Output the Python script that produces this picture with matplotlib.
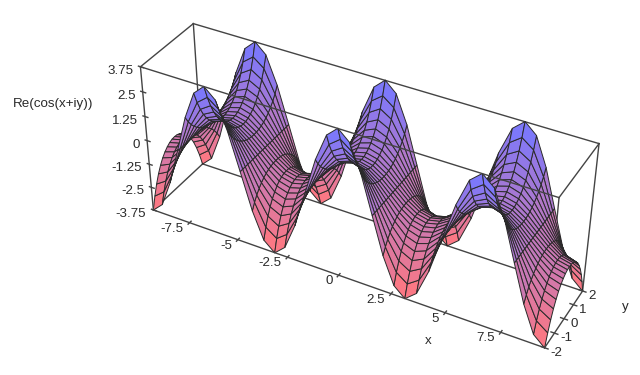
import numpy as np
import matplotlib
matplotlib.use("Agg")
import matplotlib.pyplot as plt
from matplotlib.colors import LinearSegmentedColormap, Normalize
from mpl_toolkits.mplot3d import proj3d

plt.rcParams['font.family'] = ['Liberation Sans', 'DejaVu Sans']

x_grid = [-9.42,-8.90,-8.38,-7.85,-7.33,-6.81,-6.28,-5.76,-5.24,-4.71,-4.19,-3.67,-3.14,-2.62,-2.09,-1.57,-1.05,-0.52,0,
          0.52,1.05,1.57,2.09,2.62,3.14,3.67,4.19,4.71,5.24,5.76,6.28,6.81,7.33,7.85,8.38,8.90,9.42]
y_grid = [-2,-1.8,-1.6,-1.4,-1.2,-1,-0.8,-0.6,-0.4,-0.2,0,0.2,0.4,0.6,0.8,1,1.2,1.4,1.6,1.8,2]
z_grid = [
[-3.76,-3.11,-2.58,-2.15,-1.81,-1.54,-1.34,-1.19,-1.08,-1.02,-1,-1.02,-1.08,-1.19,-1.34,-1.54,-1.81,-2.15,-2.58,-3.11,-3.76],
[-3.26,-2.69,-2.23,-1.86,-1.57,-1.34,-1.16,-1.03,-.94,-.88,-.87,-.88,-.94,-1.03,-1.16,-1.34,-1.57,-1.86,-2.23,-2.69,-3.26],
[-1.88,-1.55,-1.29,-1.08,-.91,-.77,-.67,-.59,-.54,-.51,-.5,-.51,-.54,-.59,-.67,-.77,-.91,-1.08,-1.29,-1.55,-1.88],
[0,0,0,0,0,0,0,0,0,0,0,0,0,0,0,0,0,0,0,0,0],
[1.88,1.55,1.29,1.08,.91,.77,.67,.59,.54,.51,.5,.51,.54,.59,.67,.77,.91,1.08,1.29,1.55,1.88],
[3.26,2.69,2.23,1.86,1.57,1.34,1.16,1.03,.94,.88,.87,.88,.94,1.03,1.16,1.34,1.57,1.86,2.23,2.69,3.26],
[3.76,3.11,2.58,2.15,1.81,1.54,1.34,1.19,1.08,1.02,1,1.02,1.08,1.19,1.34,1.54,1.81,2.15,2.58,3.11,3.76],
[3.26,2.69,2.23,1.86,1.57,1.34,1.16,1.03,.94,.88,.87,.88,.94,1.03,1.16,1.34,1.57,1.86,2.23,2.69,3.26],
[1.88,1.55,1.29,1.08,.91,.77,.67,.59,.54,.51,.5,.51,.54,.59,.67,.77,.91,1.08,1.29,1.55,1.88],
[0,0,0,0,0,0,0,0,0,0,0,0,0,0,0,0,0,0,0,0,0],
[-1.88,-1.55,-1.29,-1.08,-.91,-.77,-.67,-.59,-.54,-.51,-.5,-.51,-.54,-.59,-.67,-.77,-.91,-1.08,-1.29,-1.55,-1.88],
[-3.26,-2.69,-2.23,-1.86,-1.57,-1.34,-1.16,-1.03,-.94,-.88,-.87,-.88,-.94,-1.03,-1.16,-1.34,-1.57,-1.86,-2.23,-2.69,-3.26],
[-3.76,-3.11,-2.58,-2.15,-1.81,-1.54,-1.34,-1.19,-1.08,-1.02,-1,-1.02,-1.08,-1.19,-1.34,-1.54,-1.81,-2.15,-2.58,-3.11,-3.76],
[-3.26,-2.69,-2.23,-1.86,-1.57,-1.34,-1.16,-1.03,-.94,-.88,-.87,-.88,-.94,-1.03,-1.16,-1.34,-1.57,-1.86,-2.23,-2.69,-3.26],
[-1.88,-1.55,-1.29,-1.08,-.91,-.77,-.67,-.59,-.54,-.51,-.5,-.51,-.54,-.59,-.67,-.77,-.91,-1.08,-1.29,-1.55,-1.88],
[0,0,0,0,0,0,0,0,0,0,0,0,0,0,0,0,0,0,0,0,0],
[1.88,1.55,1.29,1.08,.91,.77,.67,.59,.54,.51,.5,.51,.54,.59,.67,.77,.91,1.08,1.29,1.55,1.88],
[3.26,2.69,2.23,1.86,1.57,1.34,1.16,1.03,.94,.88,.87,.88,.94,1.03,1.16,1.34,1.57,1.86,2.23,2.69,3.26],
[3.76,3.11,2.58,2.15,1.81,1.54,1.34,1.19,1.08,1.02,1,1.02,1.08,1.19,1.34,1.54,1.81,2.15,2.58,3.11,3.76],
[3.26,2.69,2.23,1.86,1.57,1.34,1.16,1.03,.94,.88,.87,.88,.94,1.03,1.16,1.34,1.57,1.86,2.23,2.69,3.26],
[1.88,1.55,1.29,1.08,.91,.77,.67,.59,.54,.51,.5,.51,.54,.59,.67,.77,.91,1.08,1.29,1.55,1.88],
[0,0,0,0,0,0,0,0,0,0,0,0,0,0,0,0,0,0,0,0,0],
[-1.88,-1.55,-1.29,-1.08,-.91,-.77,-.67,-.59,-.54,-.51,-.5,-.51,-.54,-.59,-.67,-.77,-.91,-1.08,-1.29,-1.55,-1.88],
[-3.26,-2.69,-2.23,-1.86,-1.57,-1.34,-1.16,-1.03,-.94,-.88,-.87,-.88,-.94,-1.03,-1.16,-1.34,-1.57,-1.86,-2.23,-2.69,-3.26],
[-3.76,-3.11,-2.58,-2.15,-1.81,-1.54,-1.34,-1.19,-1.08,-1.02,-1,-1.02,-1.08,-1.19,-1.34,-1.54,-1.81,-2.15,-2.58,-3.11,-3.76],
[-3.26,-2.69,-2.23,-1.86,-1.57,-1.34,-1.16,-1.03,-.94,-.88,-.87,-.88,-.94,-1.03,-1.16,-1.34,-1.57,-1.86,-2.23,-2.69,-3.26],
[-1.88,-1.55,-1.29,-1.08,-.91,-.77,-.67,-.59,-.54,-.51,-.5,-.51,-.54,-.59,-.67,-.77,-.91,-1.08,-1.29,-1.55,-1.88],
[0,0,0,0,0,0,0,0,0,0,0,0,0,0,0,0,0,0,0,0,0],
[1.88,1.55,1.29,1.08,.91,.77,.67,.59,.54,.51,.5,.51,.54,.59,.67,.77,.91,1.08,1.29,1.55,1.88],
[3.26,2.69,2.23,1.86,1.57,1.34,1.16,1.03,.94,.88,.87,.88,.94,1.03,1.16,1.34,1.57,1.86,2.23,2.69,3.26],
[3.76,3.11,2.58,2.15,1.81,1.54,1.34,1.19,1.08,1.02,1,1.02,1.08,1.19,1.34,1.54,1.81,2.15,2.58,3.11,3.76],
[3.26,2.69,2.23,1.86,1.57,1.34,1.16,1.03,.94,.88,.87,.88,.94,1.03,1.16,1.34,1.57,1.86,2.23,2.69,3.26],
[1.88,1.55,1.29,1.08,.91,.77,.67,.59,.54,.51,.5,.51,.54,.59,.67,.77,.91,1.08,1.29,1.55,1.88],
[0,0,0,0,0,0,0,0,0,0,0,0,0,0,0,0,0,0,0,0,0],
[-1.88,-1.55,-1.29,-1.08,-.91,-.77,-.67,-.59,-.54,-.51,-.5,-.51,-.54,-.59,-.67,-.77,-.91,-1.08,-1.29,-1.55,-1.88],
[-3.26,-2.69,-2.23,-1.86,-1.57,-1.34,-1.16,-1.03,-.94,-.88,-.87,-.88,-.94,-1.03,-1.16,-1.34,-1.57,-1.86,-2.23,-2.69,-3.26],
[-3.76,-3.11,-2.58,-2.15,-1.81,-1.54,-1.34,-1.19,-1.08,-1.02,-1,-1.02,-1.08,-1.19,-1.34,-1.54,-1.81,-2.15,-2.58,-3.11,-3.76],
]
x_ticks = [-7.5, -5, -2.5, 0, 2.5, 5, 7.5]
y_ticks = [-2, -1, 0, 1, 2]
z_ticks = [-3.75, -2.5, -1.25, 0, 1.25, 2.5, 3.75]
x_tick_labels = ['-7.5', '-5', '-2.5', '0', '2.5', '5', '7.5']
y_tick_labels = ['-2', '-1', '0', '1', '2']
z_tick_labels = ['-3.75', '-2.5', '-1.25', '0', '1.25', '2.5', '3.75']

x0, x1 = x_grid[0], x_grid[-1]
y0, y1 = y_grid[0], y_grid[-1]
z0, z1 = z_ticks[0], z_ticks[-1]

W, H = 640, 375
fig = plt.figure(figsize=(W/100, H/100), dpi=100, facecolor='white')
# left 208.5 px, bottom edge 332.06 px from the top, side 298.2 px
ax = fig.add_axes([208.5/W, (H-332.06)/H, 298.2/W, 298.2/H], projection='3d')
ax.computed_zorder = False
ax.set_xlim(x0, x1); ax.set_ylim(y0, y1); ax.set_zlim(z0, z1)
ax.set_box_aspect((x1-x0, y1-y0, z1-z0))
ax.view_init(elev=36.22, azim=-61.71, roll=-0.32)
ax.set_proj_type('persp')
ax._dist = 6.196
ax.set_axis_off()

cm = LinearSegmentedColormap.from_list('rb', ['#ff7880', '#7878ff'])
X, Y = np.meshgrid(x_grid, y_grid, indexing='ij')
surf = ax.plot_surface(X, Y, np.array(z_grid), rstride=1, cstride=1, cmap=cm,
                       norm=Normalize(-3.5, 3.5), edgecolor='#2a2a2a', linewidth=0.7,
                       antialiased=True, zorder=2)
surf.set_clip_on(False)

LINE = dict(color='#444444', lw=1.0, clip_on=False)
def seg(a, b, z):
    ax.plot([a[0], b[0]], [a[1], b[1]], [a[2], b[2]], zorder=z, **LINE)

for a, b in [((x0,y1,z0),(x1,y1,z0)), ((x0,y1,z1),(x1,y1,z1)), ((x0,y1,z0),(x0,y1,z1)),
             ((x1,y1,z0),(x1,y1,z1)), ((x0,y0,z0),(x0,y1,z0)), ((x1,y0,z0),(x1,y0,z1))]:
    seg(a, b, 1)
for a, b in [((x0,y0,z0),(x1,y0,z0)), ((x0,y0,z1),(x1,y0,z1)), ((x0,y0,z0),(x0,y0,z1)),
             ((x0,y0,z1),(x0,y1,z1)), ((x1,y0,z1),(x1,y1,z1)), ((x1,y0,z0),(x1,y1,z0))]:
    seg(a, b, 3)

for v in x_ticks:
    seg((v, y0-0.12, z0), (v, y0+0.12, z0), 3)
for v in y_ticks:
    seg((x1-0.15, v, z0), (x1+0.15, v, z0), 3)
for v in z_ticks:
    seg((x0-0.1, y0, v), (x0+0.15, y0, v), 3)

def label(s, p, off, ha):
    px, py, _ = proj3d.proj_transform(p[0], p[1], p[2], ax.get_proj())
    ax.annotate(s, xy=(px, py), xycoords='data', xytext=off, textcoords='offset pixels',
                ha=ha, va='center', fontsize=9.6, color='#2a2a2a', annotation_clip=False)

for v, s in zip(x_ticks, x_tick_labels):
    label(s, (v, y0, z0), (-6, -6), 'right')
for v, s in zip(y_ticks, y_tick_labels):
    label(s, (x1, v, z0), (6, -5), 'left')
for v, s in zip(z_ticks, z_tick_labels):
    label(s, (x0, y0, v), (-7, -4), 'right')

fig.text(428/W, 1-341/H, 'x', ha='center', va='center', fontsize=9.6, color='#2a2a2a')
fig.text(625/W, 1-307/H, 'y', ha='center', va='center', fontsize=9.6, color='#2a2a2a')
fig.text(53/W, 1-104/H, 'Re(cos(x+iy))', ha='center', va='center', fontsize=9.6, color='#2a2a2a')

fig.savefig('out.png', dpi=100)
